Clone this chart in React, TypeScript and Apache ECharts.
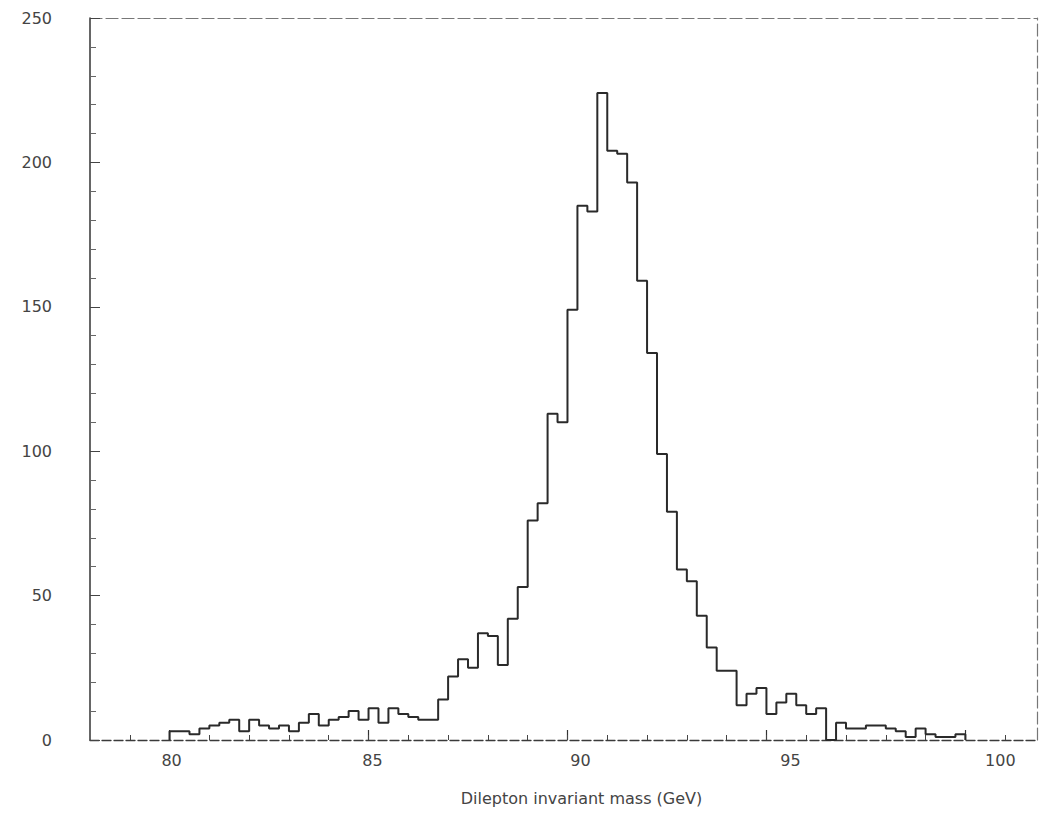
import React, { useEffect, useRef } from "react";
import * as echarts from "echarts";

// Histogram: dilepton invariant mass, 0.25 GeV bins from 80 to 100 GeV
const binStart = 80;
const binWidth = 0.25;
const counts = [
  3, 3, 2, 4, 5, 6, 7, 3, 7, 5,
  4, 5, 3, 6, 9, 5, 7, 8, 10, 7,
  11, 6, 11, 9, 8, 7, 7, 14, 22, 28,
  25, 37, 36, 26, 42, 53, 76, 82, 113, 110,
  149, 185, 183, 224, 204, 203, 193, 159, 134, 99,
  79, 59, 55, 43, 32, 24, 24, 12, 16, 18,
  9, 13, 16, 12, 9, 11, 0, 6, 4, 4,
  5, 5, 4, 3, 1, 4, 2, 1, 1, 2,
];

const xLabels = [80, 85, 90, 95, 100];
const xMinorTicks = [79, 80, 81, 82, 83, 84, 85, 86, 87, 88, 89, 90, 91, 92, 93, 94, 95, 96, 97, 98, 99, 100, 101];
const xMin = 78;
const xMax = 101.8;
const yMin = 0;
const yMax = 250;
const yInterval = 50;

const FONT = "DejaVu Sans";

export default function App() {
  const ref = useRef<HTMLDivElement>(null);

  useEffect(() => {
    if (!ref.current) return;
    const chart = echarts.init(ref.current, null, { renderer: "svg" });

    const points: number[][] = [[binStart, 0]];
    counts.forEach((c, k) => points.push([binStart + k * binWidth, c]));
    const binEnd = binStart + counts.length * binWidth;
    points.push([binEnd, counts[counts.length - 1]]);
    points.push([binEnd, 0]);

    // label shifts to follow the reference's drifting tick labels
    const labelShift: Record<string, number> = { 80: 4, 85: 8, 90: 26, 95: 48, 100: 70 };
    const rich: Record<string, any> = {};
    xLabels.forEach((v) => {
      rich["s" + v] = {
        padding: [0, 0, 0, labelShift[v]],
        fontSize: 16,
        fontFamily: FONT,
        color: "#444",
      };
    });

    chart.setOption({
      animation: false,
      backgroundColor: "#ffffff",
      grid: { left: 90, top: 18, right: 5, bottom: 81, containLabel: false },
      xAxis: [
        {
          type: "value",
          min: xMin,
          max: xMax,
          position: "bottom",
          axisLine: {
            show: true,
            onZero: false,
            lineStyle: { color: "#3a3a3a", width: 1.3, type: [9, 3] },
          },
          axisTick: {
            show: true,
            inside: true,
            length: 10,
            customValues: xLabels,
            lineStyle: { color: "#333", width: 1.2 },
          },
          axisLabel: {
            show: true,
            customValues: xLabels,
            margin: 12,
            formatter: (v: number) => `{s${v}|${v}}`,
            rich,
          },
          splitLine: { show: false },
          name: "Dilepton invariant mass (GeV)",
          nameLocation: "middle",
          nameGap: 50,
          nameTextStyle: {
            fontSize: 16,
            fontFamily: FONT,
            color: "#444",
            padding: [0, 0, 0, 36],
          },
        },
        {
          type: "value",
          min: xMin,
          max: xMax,
          position: "bottom",
          axisLine: { show: false, onZero: false },
          axisTick: {
            show: true,
            inside: true,
            length: 5,
            customValues: xMinorTicks,
            lineStyle: { color: "#444", width: 1 },
          },
          axisLabel: { show: false },
          splitLine: { show: false },
        },
        {
          type: "value",
          min: xMin,
          max: xMax,
          position: "top",
          axisLine: {
            show: true,
            onZero: false,
            lineStyle: { color: "#777", width: 1.2, type: [12, 4] },
          },
          axisTick: { show: false },
          axisLabel: { show: false },
          splitLine: { show: false },
        },
      ],
      yAxis: [
        {
          type: "value",
          min: yMin,
          max: yMax,
          interval: yInterval,
          position: "left",
          axisLine: {
            show: true,
            onZero: false,
            lineStyle: { color: "#333", width: 1.5 },
          },
          axisTick: {
            show: true,
            inside: true,
            length: 10,
            lineStyle: { color: "#444", width: 1 },
          },
          minorTick: {
            show: true,
            splitNumber: 5,
            length: 6,
            lineStyle: { color: "#666", width: 1 },
          },
          axisLabel: {
            color: "#444",
            fontSize: 16,
            fontFamily: FONT,
            margin: 38,
          },
          splitLine: { show: false },
          minorSplitLine: { show: false },
        },
        {
          type: "value",
          min: yMin,
          max: yMax,
          position: "right",
          axisLine: {
            show: true,
            onZero: false,
            lineStyle: { color: "#777", width: 1.2, type: [12, 4] },
          },
          axisTick: { show: false },
          axisLabel: { show: false },
          splitLine: { show: false },
        },
      ],
      series: [
        {
          type: "line",
          xAxisIndex: 0,
          yAxisIndex: 0,
          step: "end",
          data: points,
          showSymbol: false,
          symbol: "none",
          lineStyle: { color: "#2a2a2a", width: 2 },
          silent: true,
        },
      ],
    });

    return () => chart.dispose();
  }, []);

  return (
    <div
      ref={ref}
      style={{ position: "absolute", left: 0, top: 0, width: 1042, height: 821 }}
    />
  );
}
